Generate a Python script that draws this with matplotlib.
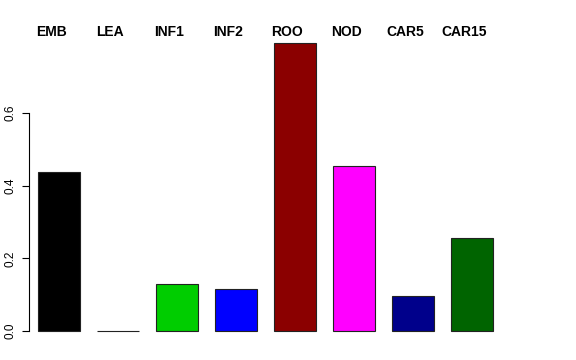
import matplotlib
matplotlib.use("Agg")
import matplotlib.pyplot as plt

# данные
labels = ["EMB", "LEA", "INF1", "INF2", "ROO", "NOD", "CAR5", "CAR15"]
values = [0.438, 0.001, 0.129, 0.116, 0.793, 0.454, 0.096, 0.256]
colors = ["#000000", "#FF0000", "#00CD00", "#0000FF", "#8B0000", "#FF00FF", "#00008B", "#006400"]

plt.rcParams['font.family'] = ['Liberation Sans', 'DejaVu Sans']

fig = plt.figure(figsize=(5.76, 3.6), dpi=100)
ax = fig.add_axes([0, 0, 1, 1])

x = list(range(len(values)))
ax.bar(x, values, width=0.71, color=colors, edgecolor="#222222", linewidth=0.8)

# подписи категорий сверху
for xi, lab in zip(x, labels):
    ax.text(xi - 0.13, 0.822, lab, ha="center", va="center",
            fontsize=10, fontweight="bold")

# масштаб: шаг 59 px, y=0 на 331 px сверху
ax.set_xlim(-1.0, 8.76)
ax.set_ylim(-29 / 363.3, 331 / 363.3)

for s in ["top", "right", "bottom"]:
    ax.spines[s].set_visible(False)
ax.spines["left"].set_position(("data", -0.517))
ax.spines["left"].set_bounds(0, 0.6)
ax.spines["left"].set_linewidth(0.8)
ax.set_xticks([])
ax.set_yticks([0.0, 0.2, 0.4, 0.6])
ax.set_yticklabels(["0.0", "0.2", "0.4", "0.6"], rotation=90, va="center", fontsize=8.5)
ax.tick_params(axis="y", length=5, width=0.8, pad=4)

fig.savefig("out.png", dpi=100)
